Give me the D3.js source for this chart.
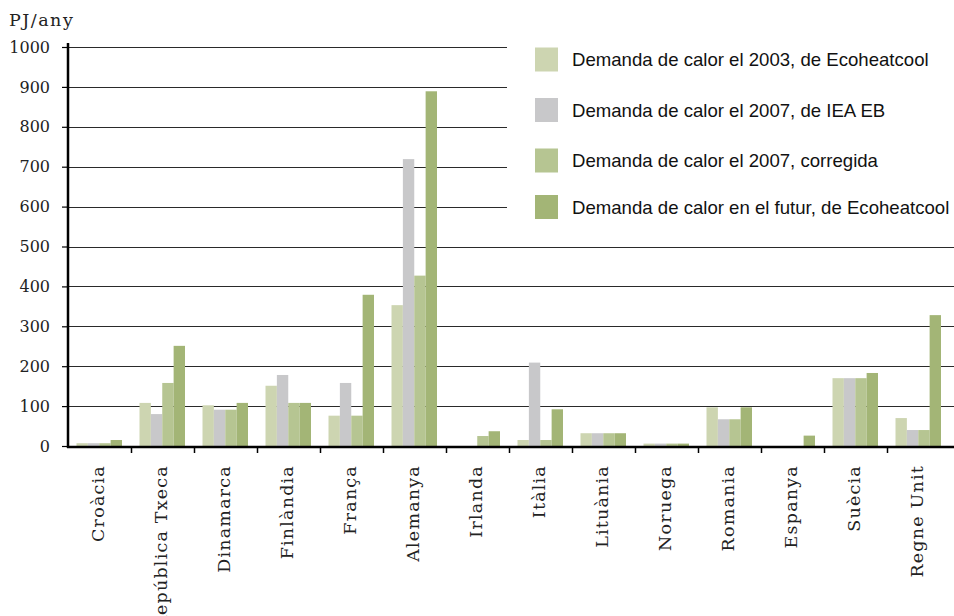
<!DOCTYPE html>
<html>
<head>
<meta charset="utf-8">
<script src="https://cdn.jsdelivr.net/npm/d3@7"></script>
<style>
  html, body { margin: 0; padding: 0; background: #fff; }
  svg { display: block; }
</style>
</head>
<body>
<svg id="chart" width="954" height="616"></svg>
<script>
// Heat demand per country, PJ per year
const categories = ["Croàcia", "República Txeca", "Dinamarca", "Finlàndia", "França", "Alemanya", "Irlanda",
  "Itàlia", "Lituània", "Noruega", "Romania", "Espanya", "Suècia", "Regne Unit"];
const seriesNames = [
  "Demanda de calor el 2003, de Ecoheatcool",
  "Demanda de calor el 2007, de IEA EB",
  "Demanda de calor el 2007, corregida",
  "Demanda de calor en el futur, de Ecoheatcool"
];
const demand2003 =   [7, 108, 102, 151, 76, 353, 0, 15, 32, 6, 97, 0, 170, 70];
const demand2007 =   [7, 80, 91, 178, 158, 719, 0, 209, 32, 6, 67, 0, 170, 40];
const demand2007c =  [7, 158, 91, 108, 76, 427, 25, 15, 32, 6, 67, 0, 170, 40];
const demandFuture = [15, 251, 108, 108, 379, 889, 37, 92, 32, 6, 97, 26, 183, 328];
const yTicks = [0, 100, 200, 300, 400, 500, 600, 700, 800, 900, 1000];
const colors = ["#cdd5b1", "#c8c8ca", "#b6c592", "#a3b576"];

const seriesValues = [demand2003, demand2007, demand2007c, demandFuture];

const svg = d3.select("#chart");
const plotLeft = 68, plotRight = 954, slotEnd = 950, plotTop = 47, plotBottom = 446;
const serifFont = "'DejaVu Serif', serif";

const y = d3.scaleLinear().domain([0, 1000]).range([plotBottom, plotTop]);
const x = d3.scaleBand().domain(categories).range([plotLeft, slotEnd]).padding(0);
const xs = d3.scaleBand().domain(d3.range(4)).range([8.5, 54]).padding(0);

// gridlines
svg.append("g")
  .selectAll("line")
  .data(yTicks.filter(d => d > 0))
  .join("line")
  .attr("x1", plotLeft).attr("x2", plotRight)
  .attr("y1", d => Math.round(y(d)) + 0.5).attr("y2", d => Math.round(y(d)) + 0.5)
  .attr("stroke", "#2a2a2a").attr("stroke-width", 1.2);

// bars
const rows = [];
categories.forEach((c, i) => seriesValues.forEach((vals, s) => rows.push({ c, s, v: vals[i] })));
svg.append("g")
  .selectAll("rect")
  .data(rows.filter(d => d.v > 0))
  .join("rect")
  .attr("x", d => x(d.c) + xs(d.s))
  .attr("width", xs.bandwidth())
  .attr("y", d => y(d.v))
  .attr("height", d => y(0) - y(d.v))
  .attr("fill", d => colors[d.s]);

// y axis
const yAxis = svg.append("g")
  .attr("transform", `translate(${plotLeft},0)`)
  .call(d3.axisLeft(y).tickValues(yTicks).tickSize(6).tickPadding(12).tickFormat(d3.format("d")));
yAxis.select(".domain").remove();
yAxis.selectAll(".tick line").attr("stroke", "#000").attr("stroke-width", 1.2);
yAxis.selectAll(".tick text")
  .attr("font-family", serifFont).attr("font-size", 16).attr("fill", "#222");
svg.append("line")
  .attr("x1", plotLeft).attr("x2", plotLeft).attr("y1", 43).attr("y2", plotBottom + 2)
  .attr("stroke", "#000").attr("stroke-width", 2.5);

// x axis
svg.append("line")
  .attr("x1", plotLeft - 1).attr("x2", plotRight).attr("y1", plotBottom + 1).attr("y2", plotBottom + 1)
  .attr("stroke", "#000").attr("stroke-width", 2.5);
svg.append("g")
  .selectAll("line")
  .data(categories.slice(1))
  .join("line")
  .attr("x1", d => Math.round(x(d)) + 0.5).attr("x2", d => Math.round(x(d)) + 0.5)
  .attr("y1", plotBottom).attr("y2", plotBottom + 7)
  .attr("stroke", "#000").attr("stroke-width", 1.5);

svg.append("g")
  .selectAll("text")
  .data(categories)
  .join("text")
  .attr("transform", d => `translate(${x(d) + x.bandwidth() / 2 + 4.5},465) rotate(-90)`)
  .attr("text-anchor", "end")
  .attr("font-family", serifFont).attr("font-size", 17.5).attr("letter-spacing", 1.2).attr("fill", "#222")
  .text(d => d);

// unit label
svg.append("text")
  .attr("x", 9).attr("y", 26)
  .attr("font-family", serifFont).attr("font-size", 17.5).attr("letter-spacing", 1.5).attr("fill", "#222")
  .text("PJ/any");

// legend on a white panel over the upper gridlines
svg.append("rect")
  .attr("x", 507).attr("y", 30).attr("width", plotRight - 507).attr("height", 202)
  .attr("fill", "#fff");
const legendY = [59.5, 110, 160.5, 207];
const legend = svg.append("g").selectAll("g")
  .data(seriesNames)
  .join("g")
  .attr("transform", (d, i) => `translate(535,${legendY[i]})`);
legend.append("rect")
  .attr("x", 0).attr("y", -12).attr("width", 23).attr("height", 24)
  .attr("fill", (d, i) => colors[i]);
legend.append("text")
  .attr("x", 37).attr("y", 6.5)
  .attr("font-family", "'Liberation Sans', Arial, sans-serif").attr("font-size", 18.6).attr("fill", "#111")
  .text(d => d);
</script>
</body>
</html>
